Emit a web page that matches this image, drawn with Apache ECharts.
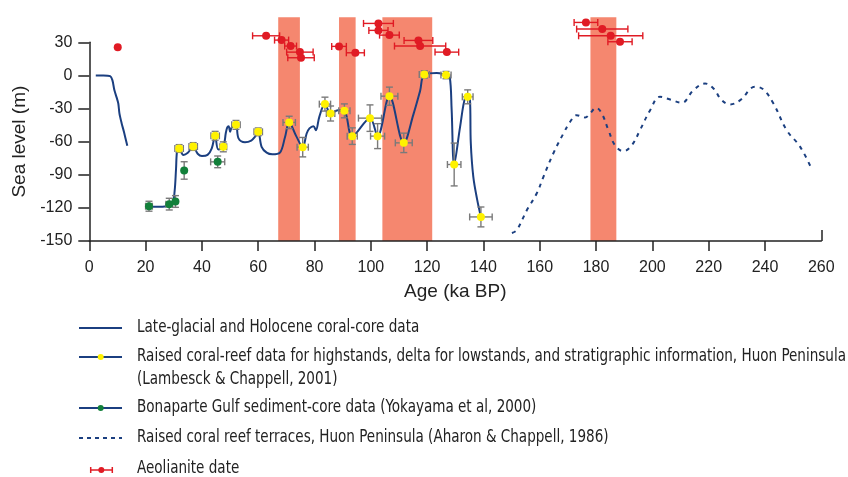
<!DOCTYPE html>
<html><head><meta charset="utf-8">
<script src="https://cdn.jsdelivr.net/npm/echarts@6/dist/echarts.min.js"></script>
<style>html,body{margin:0;padding:0;background:#fff}#c{width:848px;height:477px}</style>
</head><body><div id="c"></div>
<script>
// ---- data (age ka BP, sea level m) ----
const warmBands = [[67.1,74.8],[88.7,94.6],[104.1,121.8],[178.0,187.2]];
const holoceneCurve = [[2.3,0],[5,0],[7.4,-0.6],[8.2,-4.3],[8.9,-13.3],[9.7,-19.9],[10.3,-25.4],[10.7,-34.4],[11.5,-43.5],[12.3,-51.1],[13.5,-63.8]];
const huonCurve = [[21.2,-118.5],[24,-119],[27.5,-118.5],[29.5,-116],[30.3,-105],[30.8,-85],[31.2,-68],[31.9,-66.2],[33.4,-72],[35,-70],[36.9,-64.4],[38.5,-71],[40,-73],[42,-72],[43.5,-66],[44.7,-54.7],[45.8,-67],[47.6,-64.7],[48.5,-52],[49,-47],[49.5,-46],[50,-51],[50.6,-47],[52.1,-44.8],[53,-57],[55.3,-60.5],[57.5,-59],[59,-55],[60,-51.1],[61.2,-64.7],[63,-70],[65,-71.5],[67.7,-70],[69.5,-56],[71,-42.6],[73.5,-55],[75.8,-65],[77.2,-52.6],[78.2,-48],[79.6,-46],[80.5,-49.6],[81.7,-37.5],[83.7,-26],[85.7,-34.5],[88.3,-31.5],[90.6,-32.1],[93.4,-55],[99.7,-38.7],[102.4,-55],[106.6,-18.8],[111.7,-61.1],[115.1,-35.5],[117.5,-14],[119,0.9],[123.4,2.2],[126.7,0.3],[128,-1],[128.7,-31],[129.6,-80.7],[131.7,-46.6],[133.5,-20],[134.4,-19.4],[135.2,-21],[135.5,-61],[136.4,-92],[137.8,-113],[139.1,-128.2]];
const terraceCurve = [[150.1,-142.7],[151.8,-140.2],[155.4,-122.1],[158.9,-107],[161.3,-91.9],[164.8,-70.7],[168.4,-52.6],[170.8,-42],[173.1,-36],[176.1,-38.1],[177.9,-34.4],[180.0,-29.4],[182,-34.4],[184.4,-49.6],[186.7,-63.2],[189.7,-68.6],[192.7,-63.2],[195.6,-49.6],[199.2,-31.5],[202.7,-19.4],[206.3,-21.8],[210.4,-24.8],[214.6,-13.3],[218.7,-7.3],[221.7,-11.8],[224.6,-22.4],[227.6,-26.3],[231.2,-22.4],[236.5,-10.3],[239.4,-12.7],[243,-25.4],[247.7,-49.6],[252.5,-64.7],[256.6,-84.9]];
// [age, sea level, age error, sea-level error]
const huonPoints = [[31.9,-66.2,1.5,3.5],[36.9,-64.4,1.5,3.5],[44.7,-54.7,1.5,4],[47.6,-64.7,1.2,4.5],[52.1,-44.8,1.5,4],[60.0,-51.1,1.5,3.5],[71.0,-42.6,2.2,5.6],[75.8,-65,2,8.8],[83.7,-26,2,6.3],[85.7,-34.5,1.5,6.8],[90.6,-32.1,2,6.3],[93.4,-55,1.8,7.5],[99.7,-38.7,4.1,12],[102.4,-55,2.5,11.3],[106.6,-18.8,3,8.2],[111.7,-61.1,3,8.8],[119.0,0.9,1.8,3.3],[126.7,0.3,1.8,3.3],[129.6,-80.7,2.4,19.4],[134.4,-19.4,1.9,6.3],[139.1,-128.2,4,9]];
const bonapartePoints = [[21.2,-118.5,1.2,4.5],[28.4,-116.6,1.2,5.3],[30.6,-114.2,0,5.3],[33.7,-86.1,0,7.9],[45.6,-78.3,2.5,5.3]];
const aeolianitePoints = [[10.1,25.6,0,0],[62.8,35.9,4.8,0],[68.3,32.0,2.5,0],[71.5,26.6,2.1,0],[74.8,21.1,4.7,0],[75.2,16.0,4.7,0],[88.7,26.3,2.6,0],[94.5,20.5,3.2,0],[102.7,47.1,5.3,0],[102.7,40.8,3.4,0],[106.6,36.5,3.5,0],[116.9,31.7,5.1,0],[117.5,26.6,9.1,0],[127,21.1,4.2,0],[176.4,48,4.2,0],[182.2,42,9.1,0],[185.2,35.9,11.4,0],[188.5,30.5,4.3,0]];
const xTicks = [0,20,40,60,80,100,120,140,160,180,200,220,240,260];
const legendLabels = ['Late-glacial and Holocene coral-core data','Raised coral-reef data for highstands, delta for lowstands, and stratigraphic information, Huon Peninsula','(Lambesck & Chappell, 2001)','Bonaparte Gulf sediment-core data (Yokayama et al, 2000)','Raised coral reef terraces, Huon Peninsula (Aharon & Chappell, 1986)','Aeolianite date'];

const NAVY='#1b3f80', BAND='#F5876F', GRAY='#7a7a7a', RED='#e01b24', YEL='#fff200', GRN='#12803a';
const FONT='"Liberation Sans", Arial, sans-serif';

// choose a condensed font if one is installed
const cv=document.createElement('canvas').getContext('2d');
function has(f){cv.font='20px monospace';const a=cv.measureText('abcdefghijklmnopqrstuvwxyz').width;cv.font='20px "'+f+'", monospace';return cv.measureText('abcdefghijklmnopqrstuvwxyz').width!==a;}
let NARROW='"Liberation Sans", sans-serif';
for(const f of ['Liberation Sans Narrow','Arial Narrow','DejaVu Sans Condensed','Roboto Condensed']){ if(has(f)){NARROW='"'+f+'", sans-serif';break;} }
const LFS=17;
cv.font=LFS+'px '+NARROW;
const longW=cv.measureText(legendLabels[1]).width;
const sx=Math.min(1,709/longW);

function errRender(color){
  return function(params, api){
    const x=api.value(0), y=api.value(1), ex=api.value(2), ey=api.value(3);
    const ch=[], cap=3.5, st={stroke:color, lineWidth:1.4};
    if(ex>0){
      const a=api.coord([x-ex,y]), b=api.coord([x+ex,y]);
      ch.push({type:'line',shape:{x1:a[0],y1:a[1],x2:b[0],y2:b[1]},style:st});
      ch.push({type:'line',shape:{x1:a[0],y1:a[1]-cap,x2:a[0],y2:a[1]+cap},style:st});
      ch.push({type:'line',shape:{x1:b[0],y1:b[1]-cap,x2:b[0],y2:b[1]+cap},style:st});
    }
    if(ey>0){
      const a=api.coord([x,y-ey]), b=api.coord([x,y+ey]);
      ch.push({type:'line',shape:{x1:a[0],y1:a[1],x2:b[0],y2:b[1]},style:st});
      ch.push({type:'line',shape:{x1:a[0]-cap,y1:a[1],x2:a[0]+cap,y2:a[1]},style:st});
      ch.push({type:'line',shape:{x1:b[0]-cap,y1:b[1],x2:b[0]+cap,y2:b[1]},style:st});
    }
    return {type:'group',children:ch};
  };
}

const gridL=89.3, gridR=848-821.3, gridB=477-241;
const chart = echarts.init(document.getElementById('c'));

// legend graphics
const lg=[]; const lx1=79, lx2=122, tx=137;
const rows=[328,357,408,438,470];
function hline(y,dash){return {type:'line',shape:{x1:lx1,y1:y,x2:lx2,y2:y},style:{stroke:NAVY,lineWidth:2,lineDash:dash||null}};}
function txt(t,y){return {type:'text',x:tx,y:y,scaleX:sx,style:{text:t,x:0,y:0,font:LFS+'px '+NARROW,fill:'#222',textVerticalAlign:'middle'}};}
lg.push(hline(rows[0])); lg.push(txt(legendLabels[0],rows[0]));
lg.push(hline(rows[1])); lg.push({type:'circle',shape:{cx:100.7,cy:rows[1],r:3},style:{fill:YEL}});
lg.push(txt(legendLabels[1],rows[1])); lg.push(txt(legendLabels[2],380));
lg.push(hline(rows[2])); lg.push({type:'circle',shape:{cx:100.7,cy:rows[2],r:3},style:{fill:GRN}});
lg.push(txt(legendLabels[3],rows[2]));
lg.push(hline(rows[3],[4,4])); lg.push(txt(legendLabels[4],rows[3]));
lg.push({type:'line',shape:{x1:90.7,y1:rows[4],x2:112.3,y2:rows[4]},style:{stroke:RED,lineWidth:1.5}});
lg.push({type:'line',shape:{x1:90.7,y1:rows[4]-3,x2:90.7,y2:rows[4]+3},style:{stroke:RED,lineWidth:1.5}});
lg.push({type:'line',shape:{x1:112.3,y1:rows[4]-3,x2:112.3,y2:rows[4]+3},style:{stroke:RED,lineWidth:1.5}});
lg.push({type:'circle',shape:{cx:101.3,cy:rows[4],r:3},style:{fill:RED}});
lg.push(txt(legendLabels[5],469));

chart.setOption({
  animation:false,
  grid:[
    {left:gridL,right:gridR,top:17.3,bottom:gridB},
    {left:gridL,right:gridR,top:42.3,bottom:gridB}
  ],
  xAxis:[
    {gridIndex:0,type:'value',min:0,max:260,show:false},
    {gridIndex:1,type:'value',min:0,max:260,interval:20,
     name:'Age (ka BP)',nameLocation:'middle',nameGap:41,
     nameTextStyle:{fontFamily:FONT,fontSize:19,color:'#222'},
     axisLine:{onZero:false,lineStyle:{color:'#222',width:1.5}},
     axisTick:{length:10,lineStyle:{color:'#222',width:1.5},customValues:xTicks.slice(0,-1)},
     axisLabel:{fontFamily:FONT,fontSize:16,color:'#222',margin:19,customValues:xTicks},
     splitLine:{show:false}}
  ],
  yAxis:[
    {gridIndex:0,type:'value',min:-150,max:52.7,show:false},
    {gridIndex:1,type:'value',min:-150,max:30,interval:30,
     name:'Sea level (m)',nameLocation:'middle',nameGap:51,
     nameTextStyle:{fontFamily:FONT,fontSize:19,color:'#222'},
     axisLine:{show:true,onZero:false,lineStyle:{color:'#222',width:1.5}},
     axisTick:{show:true,length:11,lineStyle:{color:'#222',width:1.5}},
     axisLabel:{fontFamily:FONT,fontSize:16,color:'#222',margin:17},
     splitLine:{show:false}}
  ],
  graphic:lg,
  series:[
    {type:'custom',xAxisIndex:0,yAxisIndex:0,z:0,silent:true,data:warmBands,
     encode:{x:[0,1]},
     renderItem:function(p,api){
       const a=api.coord([api.value(0),52.7]), b=api.coord([api.value(1),-150]);
       return {type:'rect',shape:{x:a[0],y:a[1],width:b[0]-a[0],height:b[1]-a[1]},style:{fill:BAND}};
     }},
    {type:'line',xAxisIndex:1,yAxisIndex:1,z:2,data:holoceneCurve,smooth:0.3,showSymbol:false,
     lineStyle:{color:NAVY,width:2},
     markLine:{silent:true,symbol:'none',label:{show:false},lineStyle:{color:'#222',width:1.5,type:'solid'},
       data:[[{coord:[260,-150]},{coord:[260,-140]}]]}},
    {type:'line',xAxisIndex:1,yAxisIndex:1,z:2,data:huonCurve,smooth:0.35,showSymbol:false,lineStyle:{color:NAVY,width:2}},
    {type:'line',xAxisIndex:1,yAxisIndex:1,z:2,data:terraceCurve,smooth:0.4,showSymbol:false,lineStyle:{color:NAVY,width:2,type:[4,5]}},
    {type:'custom',xAxisIndex:1,yAxisIndex:1,z:3,data:huonPoints,renderItem:errRender(GRAY),clip:false},
    {type:'custom',xAxisIndex:1,yAxisIndex:1,z:3,data:bonapartePoints,renderItem:errRender(GRAY),clip:false},
    {type:'custom',xAxisIndex:1,yAxisIndex:1,z:3,data:aeolianitePoints,renderItem:errRender(RED),clip:false},
    {type:'scatter',xAxisIndex:1,yAxisIndex:1,z:4,data:huonPoints,symbolSize:8,itemStyle:{color:YEL,opacity:1},clip:false},
    {type:'scatter',xAxisIndex:1,yAxisIndex:1,z:4,data:bonapartePoints,symbolSize:8,itemStyle:{color:GRN,opacity:1},clip:false},
    {type:'scatter',xAxisIndex:1,yAxisIndex:1,z:4,data:aeolianitePoints,symbolSize:8,itemStyle:{color:RED,opacity:1},clip:false}
  ]
});
</script></body></html>
